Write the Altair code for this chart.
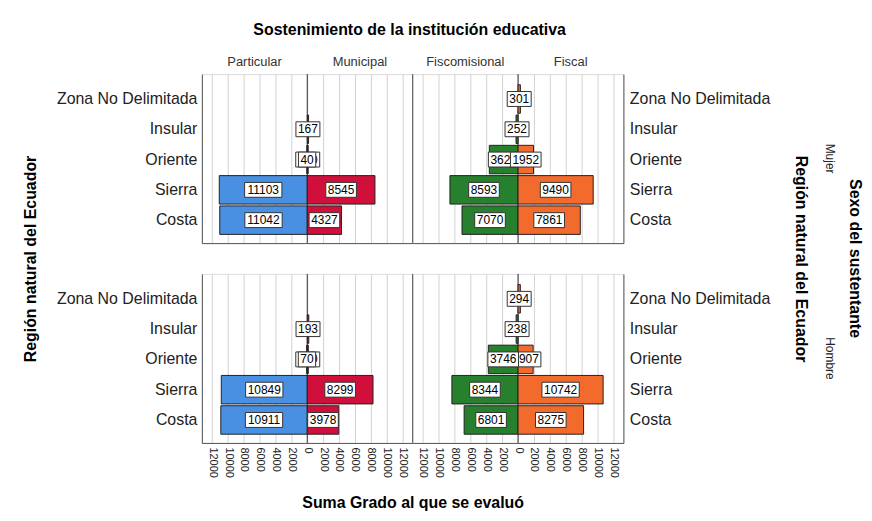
import altair as alt
import pandas as pd

# ---------------- data ----------------
regions = ["Zona No Delimitada", "Insular", "Oriente", "Sierra", "Costa"]
sexos = ["Mujer", "Hombre"]
left_names = ["Particular", "Fiscomisional"]
right_names = ["Municipal", "Fiscal"]

# values in region order (None = no bar)
mujer_particular = [None, None, 40, 11103, 11042]
mujer_municipal = [None, 167, 120, 8545, 4327]
mujer_fiscomisional = [None, 252, 3621, 8593, 7070]
mujer_fiscal = [301, None, 1952, 9490, 7861]
hombre_particular = [None, None, 70, 10849, 10911]
hombre_municipal = [None, 193, 130, 8299, 3978]
hombre_fiscomisional = [None, 238, 3746, 8344, 6801]
hombre_fiscal = [294, None, 1907, 10742, 8275]

# labels that are drawn over their neighbour
labels_on_top = [
    ("Mujer", "Particular", "Oriente"),
    ("Mujer", "Fiscal", "Oriente"),
    ("Hombre", "Particular", "Oriente"),
    ("Hombre", "Fiscomisional", "Oriente"),
]

tick_values = [-12000, -10000, -8000, -6000, -4000, -2000, 0,
               2000, 4000, 6000, 8000, 10000, 12000]

colors = {"Particular": "#4a90e2", "Municipal": "#d0103a",
          "Fiscomisional": "#26802e", "Fiscal": "#f26b2c"}

series = {
    ("Mujer", "Particular"): mujer_particular,
    ("Mujer", "Municipal"): mujer_municipal,
    ("Mujer", "Fiscomisional"): mujer_fiscomisional,
    ("Mujer", "Fiscal"): mujer_fiscal,
    ("Hombre", "Particular"): hombre_particular,
    ("Hombre", "Municipal"): hombre_municipal,
    ("Hombre", "Fiscomisional"): hombre_fiscomisional,
    ("Hombre", "Fiscal"): hombre_fiscal,
}

rows = []
for (sexo, sost), vals in series.items():
    for reg, v in zip(regions, vals):
        if v is None:
            continue
        rows.append(dict(sexo=sexo, sost=sost, region=reg, value=v,
                         side=-1 if sost in left_names else 1,
                         ontop=(sexo, sost, reg) in labels_on_top))
df = pd.DataFrame(rows)

# ---------------- layout ----------------
F = "Liberation Sans"
D = 13300
W = 212
H = 170
GAP = 31
UPP = 2 * D / W

xscale = alt.Scale(domain=[-D, D], nice=False, zero=False)
yscale = alt.Scale(domain=regions, paddingInner=0.06, paddingOuter=0.32, align=0.55)
cscale = alt.Scale(domain=list(colors.keys()), range=list(colors.values()))


def x_axis(top_row, first_col):
    if top_row:
        return alt.Axis(values=tick_values, labels=False, ticks=False, domain=True,
                        domainColor="#555555", grid=True, gridColor="#d2d2d2",
                        title=None)
    kw = dict(values=tick_values, labels=True, ticks=False, domain=True,
              domainColor="#555555", grid=True, gridColor="#d2d2d2",
              labelAngle=90, labelFontSize=11, labelFont=F, labelColor="#222222",
              labelExpr="format(abs(datum.value), 'd')", labelPadding=4,
              labelOverlap=False)
    if first_col:
        kw.update(title="Suma Grado al que se evaluó", titleX=W, titleY=60,
                  titleBaseline="middle", titleAlign="center", titleFont=F,
                  titleFontSize=16, titleFontWeight="bold", titleColor="#000000")
    else:
        kw.update(title=None)
    return alt.Axis(**kw)


def y_axis(top_row, right):
    kw = dict(orient="right" if right else "left", labelFontSize=16, labelFont=F,
              labelColor="#222222", ticks=False, domain=True, domainColor="#555555",
              labelPadding=6 if right else 5, grid=False)
    if top_row:
        kw.update(title="Región natural del Ecuador", titleFont=F, titleFontSize=16,
                  titleFontWeight="bold", titleColor="#000000",
                  titleX=178 if right else -172, titleY=H + GAP / 2,
                  titleBaseline="middle", titleAlign="center",
                  titleAngle=90 if right else -90)
    else:
        kw.update(title=None)
    return alt.Axis(**kw)


def panel(sexo, idx, top_row):
    left, right = left_names[idx], right_names[idx]
    is_right = idx == 1
    sub = df[(df.sexo == sexo) & (df.sost.isin([left, right]))]
    xa = x_axis(top_row, idx == 0)
    ya = y_axis(top_row, is_right)

    base = alt.Chart(sub).transform_calculate(
        signed="datum.side * datum.value",
        center="datum.side * datum.value / 2",
        half=f"(length(toString(datum.value)) * 6.7 + 4) / 2 * {UPP}",
        zero="0",
    ).transform_calculate(
        lo="datum.center - datum.half",
        hi="datum.center + datum.half",
    )
    Y = alt.Y("region:N", scale=yscale, axis=ya)

    center_rule = alt.Chart(pd.DataFrame({"z": [0]})).mark_rule(
        color="#333333", strokeWidth=1
    ).encode(x=alt.X("z:Q", scale=xscale, axis=xa))

    bars = base.mark_bar(stroke="#222222", strokeWidth=1).encode(
        x=alt.X("signed:Q", scale=xscale, axis=xa),
        x2="zero:Q",
        y=Y,
        color=alt.Color("sost:N", scale=cscale, legend=None),
    )

    def boxes(flag):
        return base.transform_filter(f"datum.ontop == {flag}").mark_bar(
            height=15, fill="white", stroke="#333333", strokeWidth=1
        ).encode(x=alt.X("lo:Q", scale=xscale, axis=xa), x2="hi:Q", y=Y)

    def texts(flag):
        return base.transform_filter(f"datum.ontop == {flag}").mark_text(
            font=F, fontSize=12, color="#000000"
        ).encode(x=alt.X("center:Q", scale=xscale, axis=xa), y=Y,
                 text=alt.Text("value:Q", format="d"))

    layers = [center_rule, bars, boxes("false"), texts("false"),
              boxes("true"), texts("true")]

    if top_row:
        hdr = pd.DataFrame({"name": [left, right], "side": [-1, 1]})
        layers.append(
            alt.Chart(hdr).transform_calculate(pos=f"datum.side * {D / 2}")
            .mark_text(font=F, fontSize=13, color="#333333")
            .encode(x=alt.X("pos:Q", scale=xscale, axis=xa), y=alt.value(-12),
                    text="name:N")
        )
        if idx == 0:
            layers.append(
                alt.Chart(pd.DataFrame({"t": ["Sostenimiento de la institución educativa"]}))
                .mark_text(font=F, fontSize=16, fontWeight="bold", color="#000000")
                .encode(x=alt.value(W - 3), y=alt.value(-44), text="t:N")
            )
        else:
            layers.append(
                alt.Chart(pd.DataFrame({"t": ["Sexo del sustentante"]}))
                .mark_text(font=F, fontSize=16, fontWeight="bold", color="#000000",
                           angle=90)
                .encode(x=alt.value(W + 233), y=alt.value(H + GAP / 2), text="t:N")
            )
    if is_right:
        layers.append(
            alt.Chart(pd.DataFrame({"t": [sexo]}))
            .mark_text(font=F, fontSize=12, color="#222222", angle=90)
            .encode(x=alt.value(W + 208), y=alt.value(H / 2), text="t:N")
        )
        layers.append(
            alt.Chart(pd.DataFrame({"t": [0]}))
            .mark_rule(color="#555555", strokeWidth=1)
            .encode(x=alt.value(0))
        )

    return alt.layer(*layers).properties(width=W, height=H)


panels = []
for i, sexo in enumerate(sexos):
    panels.append(panel(sexo, 0, i == 0))
    panels.append(panel(sexo, 1, i == 0))

chart = alt.concat(
    *panels, columns=2, spacing=alt.RowColnumber(row=GAP, column=0), bounds="flush"
).properties(
    padding={"left": 14, "top": 12, "right": 0, "bottom": 0}
).configure_view(stroke=None).configure(font=F, background="white")

chart.save("out.html", embed_options={"renderer": "svg", "actions": False})
